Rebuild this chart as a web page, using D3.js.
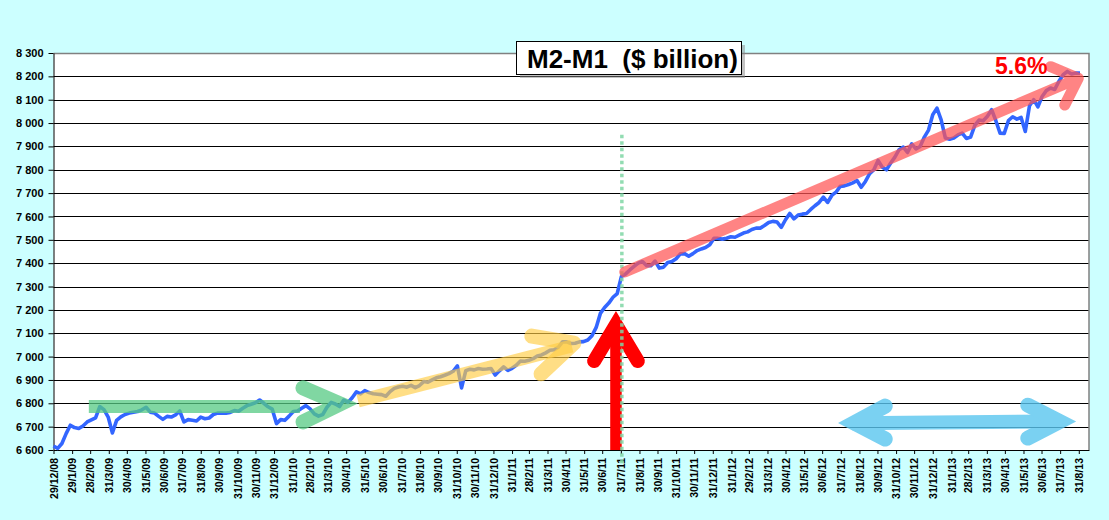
<!DOCTYPE html>
<html>
<head>
<meta charset="utf-8">
<script src="https://d3js.org/d3.v7.min.js"></script>
<style>
  body { margin: 0; background: #ccffff; }
  svg text { font-family: "Liberation Sans", Arial, sans-serif; font-weight: bold; }
</style>
</head>
<body>
<div id="chart"></div>
<script>
// weekly M2-M1 values ($ billion), first week 29/12/2008
var weekStart = new Date(2008, 11, 29);
var m2m1 = [
  6617, 6607, 6628, 6670, 6706, 6696, 6692, 6703, 6720, 6729,
  6738, 6786, 6773, 6741, 6673, 6727, 6742, 6752, 6758, 6762,
  6765, 6772, 6783, 6762, 6758, 6744, 6731, 6744, 6741, 6750,
  6767, 6720, 6730, 6727, 6724, 6741, 6734, 6737, 6752, 6758,
  6758, 6758, 6761, 6769, 6766, 6779, 6790, 6796, 6802, 6814,
  6800, 6785, 6775, 6713, 6730, 6727, 6745, 6765, 6767, 6779,
  6790, 6776, 6755, 6745, 6752, 6783, 6804, 6797, 6786, 6814,
  6804, 6824, 6849, 6840, 6854, 6846, 6841, 6839, 6837, 6830,
  6850, 6864, 6870, 6873, 6869, 6877, 6867, 6876, 6893, 6890,
  6900, 6909, 6914, 6920, 6927, 6937, 6960, 6866, 6940, 6946,
  6943, 6949, 6946, 6947, 6949, 6921, 6939, 6956, 6941, 6950,
  6963, 6981, 6980, 6984, 6991, 7003, 7007, 7016, 7027, 7029,
  7040, 7063, 7063, 7056, 7057, 7063, 7064, 7071, 7089, 7125,
  7185, 7210, 7229, 7254, 7270, 7343, 7354, 7371, 7386, 7400,
  7407, 7389, 7389, 7409, 7379, 7383, 7403, 7407, 7419, 7440,
  7441, 7430, 7441, 7454, 7461, 7467, 7479, 7507, 7506, 7503,
  7507, 7513, 7511, 7520, 7529, 7534, 7544, 7550, 7550, 7561,
  7574, 7579, 7576, 7553, 7586, 7613, 7590, 7606, 7610, 7613,
  7630, 7646, 7660, 7683, 7660, 7690, 7704, 7729, 7731, 7737,
  7744, 7754, 7725, 7750, 7783, 7800, 7840, 7811, 7800, 7829,
  7854, 7886, 7897, 7874, 7911, 7889, 7900, 7940, 7970, 8036,
  8064, 8014, 7936, 7931, 7936, 7949, 7957, 7934, 7940, 7990,
  8013, 8010, 8029, 8057, 8010, 7957, 7956, 8011, 8027, 8017,
  8024, 7964, 8074, 8100, 8069, 8114, 8139, 8150, 8144, 8179,
  8207, 8221, 8210, 8214, 8214
];

// x axis labels
var xLabels = [
  "29/12/08", "29/1/09", "28/2/09", "31/3/09", "30/4/09", "31/5/09", "30/6/09", "31/7/09",
  "31/8/09", "30/9/09", "31/10/09", "30/11/09", "31/12/09", "31/1/10", "28/2/10", "31/3/10",
  "30/4/10", "31/5/10", "30/6/10", "31/7/10", "31/8/10", "30/9/10", "31/10/10", "30/11/10",
  "31/12/10", "31/1/11", "28/2/11", "31/3/11", "30/4/11", "31/5/11", "30/6/11", "31/7/11",
  "31/8/11", "30/9/11", "31/10/11", "30/11/11", "31/12/11", "31/1/12", "29/2/12", "31/3/12",
  "30/4/12", "31/5/12", "30/6/12", "31/7/12", "31/8/12", "30/9/12", "31/10/12", "30/11/12",
  "31/12/12", "31/1/13", "28/2/13", "31/3/13", "30/4/13", "31/5/13", "30/6/13", "31/7/13",
  "31/8/13"
];
var yTicks = d3.range(6600, 8301, 100);

// annotations, in [week number, value]
var greenBand = [[8.4, 6786], [58.6, 6786]];
var greenHead = [[59.3, 6866], [68.1, 6797], [59.3, 6720]];
var yellowBand = [[72.4, 6810], [123.2, 7045]];
var yellowHead = [[113.7, 7088], [123.7, 7058], [115.9, 6926]];
var redShaft = [[133.7, 6600], [133.7, 7120]];
var redHead = [[128.5, 6981], [133.7, 7137], [138.9, 6981]];
var dotLine = [[135.1, 7950], [135.1, 6600]];
var pinkArrow = [[135.8, 7362], [243.6, 8192]];
var blueShaft = [[189.8, 6715], [239.6, 6722]];
var blueHeadL = [[197.7, 6788], [190.3, 6716], [197.7, 6647]];
var blueHeadR = [[231.6, 6792], [239.2, 6722], [231.6, 6651]];
var pctLabel = { w: 223.8, v: 8212, text: "5.6%" };
var title = "M2-M1  ($ billion)";

var W = 1109, H = 520;
var mL = 53.5, mR = 1089, mT = 53, mB = 450;

var parse = d3.timeParse("%d/%m/%y");
var tickDates = xLabels.map(parse);
var WEEK = 7 * 864e5;

var x = d3.scaleTime()
  .domain([weekStart, new Date(2013, 8, 17)])
  .range([mL, mR]);
var y = d3.scaleLinear().domain([6600, 8300]).range([mB, mT]);
var xw = function(w) { return x(new Date(+weekStart + w * WEEK)); };
var pt = function(p) { return [xw(p[0]), y(p[1])]; };

var svg = d3.select("#chart").append("svg")
  .attr("width", W).attr("height", H);

svg.append("rect").attr("width", W).attr("height", H).attr("fill", "#ccffff");
svg.append("rect")
  .attr("x", mL).attr("y", mT)
  .attr("width", mR - mL).attr("height", mB - mT)
  .attr("fill", "#fff");

// gridlines
svg.append("g").selectAll("line")
  .data(yTicks.slice(1, -1))
  .join("line")
  .attr("x1", mL).attr("x2", mR)
  .attr("y1", d => Math.round(y(d)) + 0.5).attr("y2", d => Math.round(y(d)) + 0.5)
  .attr("stroke", "#000").attr("stroke-width", 1);

// plot border top / right
svg.append("path")
  .attr("d", "M" + mL + "," + (mT + 0.5) + "H" + mR + "V" + mB)
  .attr("fill", "none").attr("stroke", "#808080").attr("stroke-width", 1.5);

var spaceFmt = d3.formatLocale({ decimal: ".", thousands: " ", grouping: [3], currency: ["", ""] }).format(",");

var yAxis = svg.append("g")
  .attr("transform", "translate(" + mL + ",0)")
  .call(d3.axisLeft(y).tickValues(yTicks).tickFormat(spaceFmt).tickSize(5).tickPadding(5).tickSizeOuter(0));
yAxis.selectAll("text").attr("font-size", 11).attr("fill", "#000");
yAxis.select(".domain").attr("stroke", "#000");

var xAxis = svg.append("g")
  .attr("transform", "translate(0," + mB + ")")
  .call(d3.axisBottom(x).tickValues(tickDates).tickFormat((d, i) => xLabels[i]).tickSize(4).tickSizeOuter(0));
xAxis.selectAll("text")
  .attr("font-size", 10.5).attr("fill", "#000")
  .attr("transform", "rotate(-90)")
  .attr("text-anchor", "end")
  .attr("x", -8).attr("y", 0).attr("dy", "0.35em");
xAxis.select(".domain").attr("stroke", "#000");

// the series
var line = d3.line()
  .x((d, i) => xw(i))
  .y(d => y(d));
svg.append("path")
  .datum(m2m1)
  .attr("d", line)
  .attr("fill", "none")
  .attr("stroke", "#3366ff")
  .attr("stroke-width", 3.6)
  .attr("stroke-linejoin", "round");

var seg = d3.line().x(d => pt(d)[0]).y(d => pt(d)[1]);

// green flat arrow
svg.append("path").attr("d", seg(greenBand))
  .attr("stroke", "#55c983").attr("stroke-opacity", 0.75).attr("stroke-width", 13).attr("fill", "none");
svg.append("path").attr("d", seg(greenHead))
  .attr("stroke", "#55c983").attr("stroke-opacity", 0.75).attr("stroke-width", 15)
  .attr("stroke-linecap", "round").attr("stroke-linejoin", "miter").attr("fill", "none");

// yellow arrow
svg.append("path").attr("d", seg(yellowBand))
  .attr("stroke", "#ffcc44").attr("stroke-opacity", 0.65).attr("stroke-width", 13).attr("fill", "none");
svg.append("path").attr("d", seg(yellowHead))
  .attr("stroke", "#ffcc44").attr("stroke-opacity", 0.65).attr("stroke-width", 15)
  .attr("stroke-linecap", "round").attr("stroke-linejoin", "round").attr("fill", "none");

// red vertical arrow
svg.append("path").attr("d", seg(redShaft))
  .attr("stroke", "#ff0000").attr("stroke-width", 11.5).attr("fill", "none");
svg.append("path").attr("d", seg(redHead))
  .attr("stroke", "#ff0000").attr("stroke-width", 14)
  .attr("stroke-linecap", "round").attr("stroke-linejoin", "miter").attr("fill", "none");

// dotted vertical line
svg.append("line")
  .attr("x1", pt(dotLine[0])[0]).attr("x2", pt(dotLine[1])[0])
  .attr("y1", pt(dotLine[0])[1]).attr("y2", pt(dotLine[1])[1] + 14)
  .attr("stroke", "#7fd6a4").attr("stroke-opacity", 0.85)
  .attr("stroke-width", 3.5).attr("stroke-dasharray", "3.5,3");

// pink trend arrow
var pa = pt(pinkArrow[0]), pb = pt(pinkArrow[1]);
var ang = Math.atan2(pa[1] - pb[1], pa[0] - pb[0]);
var armLen = 30;
var headPts = [-0.7, 0.8].map(function(a) {
  return [pb[0] + armLen * Math.cos(ang + a), pb[1] + armLen * Math.sin(ang + a)];
});
var pink = svg.append("g").attr("opacity", 0.72);
pink.append("path")
  .attr("d", "M" + pa + "L" + pb + "M" + headPts[0] + "L" + pb + "L" + headPts[1])
  .attr("stroke", "#ff5555").attr("stroke-width", 11)
  .attr("stroke-linecap", "round").attr("stroke-linejoin", "round").attr("fill", "none");

// blue double arrow
var blue = svg.append("g").attr("opacity", 0.8);
blue.append("path")
  .attr("d", seg(blueShaft))
  .attr("stroke", "#5ac6f0").attr("stroke-width", 14).attr("fill", "none");
blue.append("path")
  .attr("d", seg(blueHeadL) + seg(blueHeadR))
  .attr("stroke", "#5ac6f0").attr("stroke-width", 15)
  .attr("stroke-linecap", "round").attr("stroke-linejoin", "miter").attr("fill", "none");

// 5.6% label
svg.append("text")
  .attr("x", xw(pctLabel.w)).attr("y", y(pctLabel.v))
  .attr("font-size", 23).attr("fill", "#ff0000")
  .text(pctLabel.text);

// title box
var tb = svg.append("g").attr("transform", "translate(516,41)");
tb.append("rect").attr("x", 4).attr("y", 4).attr("width", 225).attr("height", 33)
  .attr("fill", "#888").attr("opacity", 0.5);
tb.append("rect").attr("x", 0.5).attr("y", 0.5).attr("width", 225).attr("height", 33)
  .attr("fill", "#fff").attr("stroke", "#000");
tb.append("text")
  .attr("x", 11).attr("y", 26.5)
  .attr("font-size", 26).attr("fill", "#000")
  .style("white-space", "pre")
  .text(title);
</script>
</body>
</html>
